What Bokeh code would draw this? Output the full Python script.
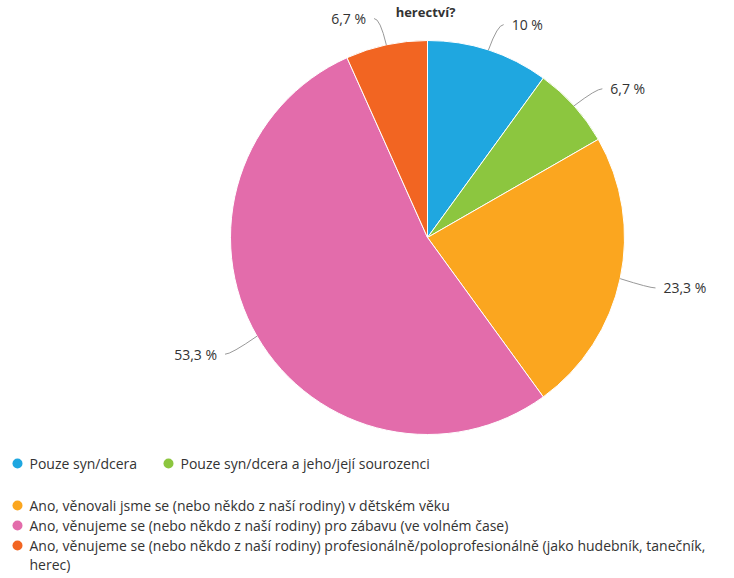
import math
from bokeh.plotting import figure
from bokeh.models import Range1d
from bokeh.core.properties import value
from bokeh.embed import file_html
from bokeh.resources import INLINE

# ---- data ----
categories = [
    "Pouze syn/dcera",
    "Pouze syn/dcera a jeho/její sourozenci",
    "Ano, věnovali jsme se (nebo někdo z naší rodiny) v dětském věku",
    "Ano, věnujeme se (nebo někdo z naší rodiny) pro zábavu (ve volném čase)",
    "Ano, věnujeme se (nebo někdo z naší rodiny) profesionálně/poloprofesionálně (jako hudebník, tanečník, herec)",
]
values = [10, 6.7, 23.3, 53.3, 6.7]
colors = ["#1fa7e0", "#8cc63f", "#fba61f", "#e36cab", "#f26522"]
title_text = "herectví?"

FONT = "Open Sans"
W, H = 734, 578


def px(X):
    return X


def py(Y):
    return H - Y


p = figure(width=W, height=H, output_backend="svg", toolbar_location=None,
           x_range=Range1d(0, W), y_range=Range1d(0, H),
           min_border=0, outline_line_color=None)
p.axis.visible = False
p.grid.visible = False
p.background_fill_color = "white"
p.border_fill_color = "white"

cx, cy, R = px(427), py(237), 197

total = sum(values)
cum = 0
starts, ends, mids = [], [], []
for v in values:
    a0 = math.pi / 2 - 2 * math.pi * cum / total
    cum += v
    a1 = math.pi / 2 - 2 * math.pi * cum / total
    starts.append(a0)
    ends.append(a1)
    mids.append((a0 + a1) / 2)

p.wedge(x=cx, y=cy, radius=R, start_angle=starts, end_angle=ends,
        direction="clock", fill_color=colors, line_color="white", line_width=1)

# data labels with connectors
labels = [("%g" % v).replace(".", ",") + " %" for v in values]
x0s, y0s, x1s, y1s, cxs, cys = [], [], [], [], [], []
lx, ly, lal = [], [], []
for m in mids:
    ex, ey = cx + R * math.cos(m), cy + R * math.sin(m)
    ax, ay = cx + (R + 30) * math.cos(m), cy + (R + 30) * math.sin(m)
    side = 1 if math.cos(m) >= 0 else -1
    x0s.append(ex); y0s.append(ey)
    x1s.append(ax + side * 6); y1s.append(ay - 3)
    cxs.append(ax); cys.append(ay - 3)
    lx.append(ax + side * 14); ly.append(ay - 3)
    lal.append("left" if side > 0 else "right")

p.quadratic(x0=x0s, y0=y0s, x1=x1s, y1=y1s, cx=cxs, cy=cys,
            line_color="#999999", line_width=1)
for i in range(len(values)):
    p.text(x=[lx[i]], y=[ly[i]], text=[labels[i]], text_align=lal[i],
           text_baseline="middle", text_font=value(FONT),
           text_font_size="14px", text_color="#333333")

p.text(x=[px(425)], y=[py(11)], text=[title_text], text_align="center",
       text_baseline="middle", text_font=value(FONT),
       text_font_size="13px", text_font_style="bold", text_color="#333333")

# legend
leg_pos = [(17, 463), (168, 463), (17, 505), (17, 525), (17, 545)]
for i, cat in enumerate(categories):
    X, Y = leg_pos[i]
    p.scatter(x=[px(X)], y=[py(Y)], size=10, marker="circle",
              fill_color=colors[i], line_color=None)
    txt = cat.replace(", herec)", ",\nherec)")
    if "\n" in txt:
        p.text(x=[px(X + 12)], y=[py(Y) + 10], text=[txt], text_align="left",
               text_baseline="top", text_line_height=1.05,
               text_font=value(FONT), text_font_size="14px",
               text_color="#333333")
    else:
        p.text(x=[px(X + 12)], y=[py(Y)], text=[txt], text_align="left",
               text_baseline="middle", text_font=value(FONT),
               text_font_size="14px", text_color="#333333")

open("out.html", "w").write(file_html(p, INLINE))
